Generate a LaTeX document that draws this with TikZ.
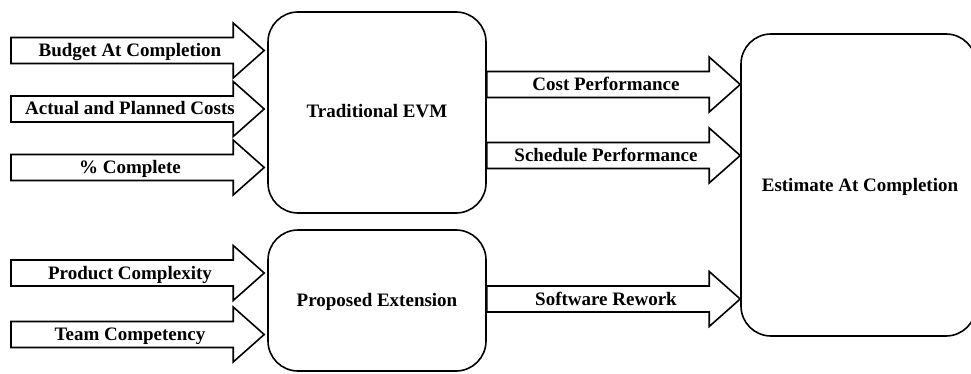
\documentclass[tikz,border=0pt]{standalone}
\usepackage{fontspec}
\setmainfont{Liberation Serif}
\newfontfamily\lblfont{Liberation Serif}[BoldFont={* Bold}]
\usetikzlibrary{calc}
\tikzset{
  box/.style={draw, line width=1.6pt, rounded corners=30pt, inner sep=0pt},
  barrow/.style={draw, line width=1.6pt, line join=miter},
  lbl/.style={font=\lblfont\bfseries\fontsize{19}{21}\selectfont, inner sep=0pt, anchor=base},
}
\newcommand\blockarr[2]{%
  \draw[barrow] let \p1=(#1), \p2=(#2) in
   (\x1,\y1+13pt) -- (\x2-31pt,\y1+13pt) -- (\x2-31pt,\y1+27.5pt) -- (\x2,\y1)
   -- (\x2-31pt,\y1-27.5pt) -- (\x2-31pt,\y1-13pt) -- (\x1,\y1-13pt) -- cycle;}
\begin{document}
\begin{tikzpicture}[x=1pt,y=-1pt]
\useasboundingbox (0,0) rectangle (971,374);
% boxes
\node[box, minimum width=218pt, minimum height=201pt] (EVM) at (377,112.5) {};
\node[box, minimum width=218pt, minimum height=141pt] (EXT) at (377,300.5) {};
\node[box, minimum width=235pt, minimum height=302pt] (EAC) at (858.5,185) {};
\node[lbl] (tEVM) at (377,118) {Traditional EVM};
\node[lbl] (tEXT) at (377,306) {Proposed Extension};
\node[lbl] (tEAC) at (860,192) {Estimate At Completion};
% input arrows
\coordinate (i1) at (11,50.5);
\coordinate (i2) at (11,109);
\coordinate (i3) at (11,167.5);
\coordinate (i4) at (11,273);
\coordinate (i5) at (11,334.5);
\blockarr{i1}{$(EVM.west|-i1)+(-3,0)$}
\blockarr{i2}{$(EVM.west|-i2)+(-3,0)$}
\blockarr{i3}{$(EVM.west|-i3)+(-3,0)$}
\blockarr{i4}{$(EXT.west|-i4)+(-3,0)$}
\blockarr{i5}{$(EXT.west|-i5)+(-3,0)$}
\node[lbl] (l1) at (130,56.5) {Budget At Completion};
\node[lbl] (l2) at (130,115) {Actual and Planned Costs};
\node[lbl] (l3) at (130,173.5) {\% Complete};
\node[lbl] (l4) at (130,279) {Product Complexity};
\node[lbl] (l5) at (130,340.5) {Team Competency};
% output arrows
\coordinate (o1) at (0,84.5);
\coordinate (o2) at (0,155.5);
\coordinate (o3) at (0,299);
\blockarr{EVM.east|-o1}{EAC.west|-o1}
\blockarr{EVM.east|-o2}{EAC.west|-o2}
\blockarr{EXT.east|-o3}{EAC.west|-o3}
\node[lbl] (l6) at (606,90.5) {Cost Performance};
\node[lbl] (l7) at (606,161.5) {Schedule Performance};
\node[lbl] (l8) at (606,305) {Software Rework};
\end{tikzpicture}
\end{document}
